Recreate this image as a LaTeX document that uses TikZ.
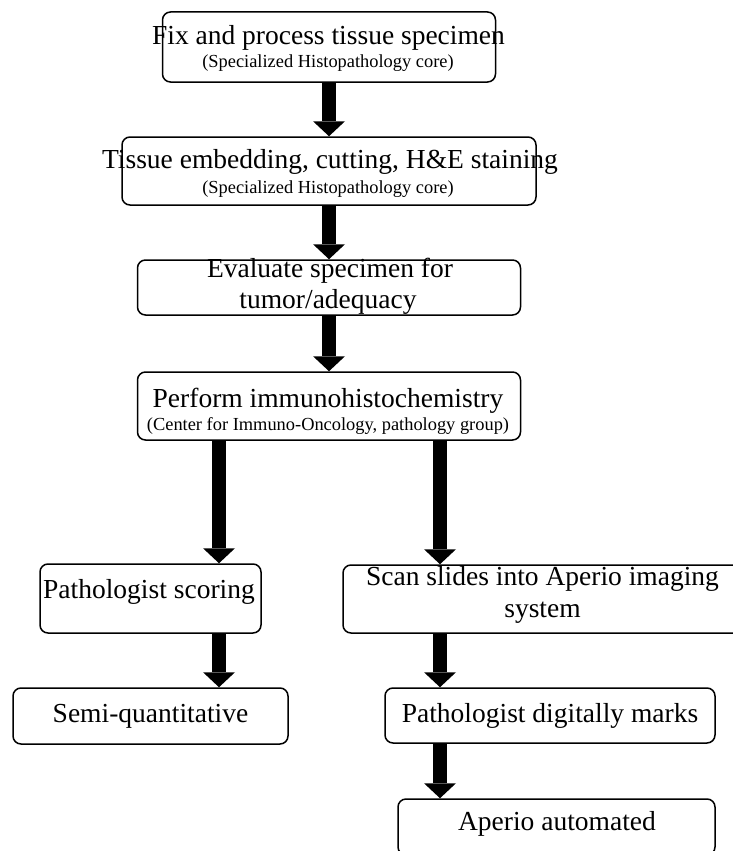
\documentclass[tikz,border=0pt]{standalone}
\usepackage{fontspec}
\setmainfont{Liberation Serif}
\usetikzlibrary{arrows.meta}

\begin{document}
\begin{tikzpicture}[x=1pt, y=-1pt,
    box/.style={draw, line width=1.5pt, rounded corners=8pt, inner sep=0pt},
    flow/.style={line width=14pt, -{Triangle[width=32pt, length=15pt, line width=0pt]}},
    title/.style={anchor=base, inner sep=0pt, font=\fontsize{27.5}{32}\selectfont},
    sub/.style={anchor=base, inner sep=0pt, font=\fontsize{18.4}{22}\selectfont}]
            \useasboundingbox (0,0) rectangle (733,851);
            \clip (0,0) rectangle (733,851);

            % Columns of the arrows
            \coordinate (lcol) at (219,0);
            \coordinate (rcol) at (440,0);

            % Main column
            \node[box, minimum width=333pt, minimum height=70pt] (fix) at (329,47) {};
            \node[box, minimum width=414pt, minimum height=68pt] (embed) at (329,171) {};
            \node[box, minimum width=383pt, minimum height=55pt] (eval) at (329,287.5) {};
            \node[box, minimum width=383pt, minimum height=68pt] (ihc) at (329,406) {};

            \node[title] (fixT) at (328.5,45) {Fix and process tissue specimen};
            \node[sub] (fixS) at (328,67) {(Specialized Histopathology core)};
            \node[title] (embedT) at (330,168) {Tissue embedding, cutting, H\&E staining};
            \node[sub] (embedS) at (328,193) {(Specialized Histopathology core)};
            \node[title] (evalA) at (330,277) {Evaluate specimen for};
            \node[title] (evalB) at (328,308) {tumor/adequacy};
            \node[title] (ihcT) at (328,407) {Perform immunohistochemistry};
            \node[sub] (ihcS) at (328,430) {(Center for Immuno-Oncology, pathology group)};

            % Left branch
            \node[box, minimum width=221pt, minimum height=69pt] (score) at (150.5,598.5) {};
            \node[box, minimum width=275pt, minimum height=56pt] (semi) at (150.5,716) {};
            \node[title] (scoreT) at (149,598) {Pathologist scoring};
            \node[title] (semiT) at (150.5,722) {Semi-quantitative};

            % Right branch
            \node[box, minimum width=399pt, minimum height=68pt] (scan) at (542.5,599) {};
            \node[box, minimum width=330pt, minimum height=55pt] (marks) at (550,715.5) {};
            \node[box, minimum width=317pt, minimum height=56pt] (auto) at (556.5,827) {};
            \node[title] (scanA) at (542.5,585) {Scan slides into Aperio imaging};
            \node[title] (scanB) at (542.5,617) {system};
            \node[title] (marksT) at (550,722) {Pathologist digitally marks};
            \node[title] (autoT) at (557,830) {Aperio automated};

            % Arrows
            \draw[flow] (fix) -- (embed);
            \draw[flow] (embed) -- (eval);
            \draw[flow] (eval) -- (ihc);
            \draw[flow] (ihc.south -| lcol) -- (score.north -| lcol);
            \draw[flow] (ihc.south -| rcol) -- (scan.north -| rcol);
            \draw[flow] (score.south -| lcol) -- (semi.north -| lcol);
            \draw[flow] (scan.south -| rcol) -- (marks.north -| rcol);
            \draw[flow] (marks.south -| rcol) -- (auto.north -| rcol);
        \end{tikzpicture}
\end{document}
